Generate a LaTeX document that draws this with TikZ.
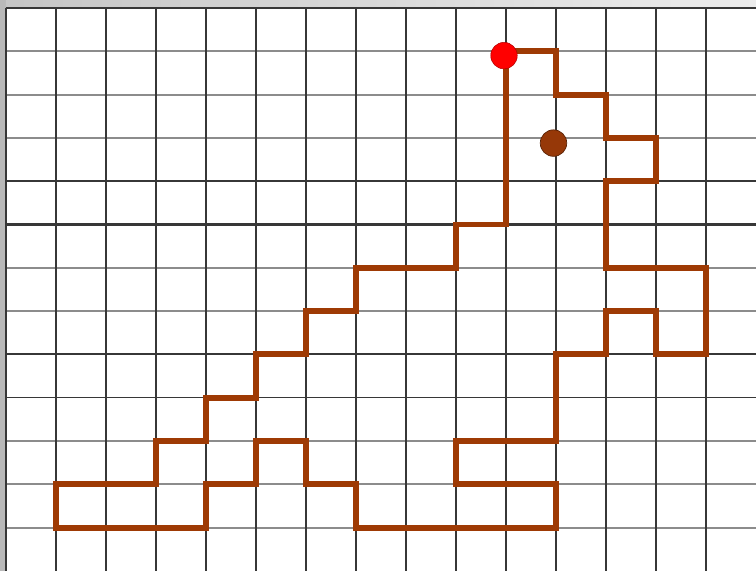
\documentclass[tikz,border=0pt]{standalone}
\usepackage{tikz}
\definecolor{pathcol}{RGB}{158,58,4}
\definecolor{dotcol}{RGB}{150,56,8}
\definecolor{gridcol}{RGB}{55,55,55}
\definecolor{lightcol}{RGB}{140,140,140}
\definecolor{framecol}{RGB}{185,185,185}

\begin{document}
\begin{tikzpicture}[
  x=1cm, y=0.866cm,
  vline/.style={draw=gridcol,line width=0.8pt},
  hline/.style={draw=lightcol,line width=1.1pt},
  hdark/.style={draw=gridcol,line width=0.8pt},
  outline/.style={draw=pathcol,line width=3.4pt,line join=miter},
  dot/.style={circle,minimum size=5.3mm,inner sep=0pt},
]
\useasboundingbox (-0.12,0) rectangle (15,13.185);
% --- window frame (grey strips left and top) ---
\fill[framecol] (-0.12,0) rectangle (0,13.185);
\shade[left color=gray!45,right color=gray!15] (0,13) rectangle (15,13.185);

% --- the grid ---
\foreach \k in {1,2,3,6,7,10,11,12}
  \draw[hline] (0,\k) -- (15,\k);
\foreach \k in {4,9,13}
  \draw[hdark] (0,\k) -- (15,\k);
\foreach \k in {5,8}
  \draw[hdark,line width=1.2pt] (0,\k) -- (15,\k);
\foreach \i in {0,...,14}
  \draw[vline] (\i,0) -- (\i,13);

% --- the polygon figure ---
\draw[outline] (10,12) -- (11,12) -- (11,11) -- (12,11) -- (12,10) -- (13,10)
  -- (13,9) -- (12,9) -- (12,7) -- (14,7) -- (14,5) -- (13,5) -- (13,6)
  -- (12,6) -- (12,5) -- (11,5) -- (11,3) -- (9,3) -- (9,2) -- (11,2)
  -- (11,1) -- (7,1) -- (7,2) -- (6,2) -- (6,3) -- (5,3) -- (5,2) -- (4,2)
  -- (4,1) -- (1,1) -- (1,2) -- (3,2) -- (3,3) -- (4,3) -- (4,4) -- (5,4)
  -- (5,5) -- (6,5) -- (6,6) -- (7,6) -- (7,7) -- (9,7) -- (9,8) -- (10,8)
  -- cycle;

% --- the two points ---
\node[dot,fill=red,draw=red!70!black,line width=0.3pt] (start) at (9.96,11.9) {};
\node[dot,fill=dotcol,draw=dotcol!60!black,line width=0.4pt] (eye) at (10.95,9.88) {};
\end{tikzpicture}
\end{document}
